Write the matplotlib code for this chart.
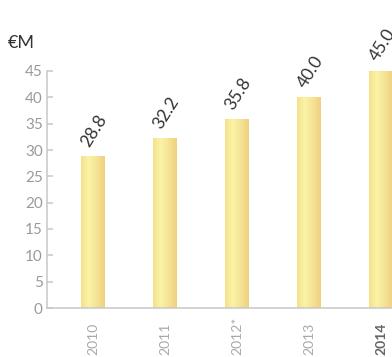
import numpy as np
import matplotlib
matplotlib.use("Agg")
import matplotlib.pyplot as plt
import matplotlib.transforms as mtransforms
from matplotlib.colors import LinearSegmentedColormap

plt.rcParams["font.family"] = ["Lato", "DejaVu Sans"]

# revenue per year, € millions
years = ["2010", "2011", "2012*", "2013", "2014"]
revenue = [28.8, 32.2, 35.8, 40.0, 45.0]
value_labels = ["28.8", "32.2", "35.8", "40.0", "45.0"]

bar_cmap = LinearSegmentedColormap.from_list(
    "gold", ["#f4e08c", "#faf3a6", "#f5e294", "#f0d07f"])

fig = plt.figure(figsize=(3.92, 3.57), dpi=100)
ax = fig.add_axes([47 / 392, 49 / 357, 345 / 392, 237 / 357])

x = np.arange(len(years))
width = 0.33
bars = ax.bar(x, revenue, width=width, color="none", edgecolor="none")

# horizontal gradient fill, clipped to each bar
grad = np.linspace(0, 1, 256).reshape(1, -1)
for b in bars:
    x0 = b.get_x()
    im = ax.imshow(grad, cmap=bar_cmap, aspect="auto",
                   extent=[x0, x0 + b.get_width(), 0, b.get_height()],
                   zorder=2)
    im.set_clip_path(b)

for xi, v, lab in zip(x, revenue, value_labels):
    ax.annotate(lab, (xi, v), xytext=(1, 5), textcoords="offset points",
                ha="center", va="bottom", rotation=58, fontsize=12.5,
                color="#333333", annotation_clip=False)

ax.set_xlim(-0.64, 4.15)
ax.set_ylim(0, 45)
ax.set_yticks(range(0, 50, 5))
ax.set_xticks(x)
ax.set_xticklabels([])

# year labels read upwards from a common baseline below the axis
trans = mtransforms.blended_transform_factory(ax.transData, ax.transAxes)
for i, (xi, yr) in enumerate(zip(x, years)):
    last = i == len(years) - 1
    ax.text(xi, -0.198, yr, transform=trans, rotation=90, ha="center",
            va="bottom", fontsize=10, clip_on=False,
            color="#666666" if last else "#aaaaaa",
            fontweight="bold" if last else "normal")

for s in ["top", "right"]:
    ax.spines[s].set_visible(False)
for s in ["left", "bottom"]:
    ax.spines[s].set_color("#c8c8c8")
    ax.spines[s].set_linewidth(1.1)

ax.tick_params(axis="y", direction="in", length=4, width=1.1,
               color="#c8c8c8", labelcolor="#9a9a9a", labelsize=11, pad=3)
ax.tick_params(axis="x", length=0)

fig.text(8 / 392, 1 - 43 / 357, "€M", fontsize=13, color="#333333",
         va="center", ha="left")

fig.savefig("out.png", dpi=100)
